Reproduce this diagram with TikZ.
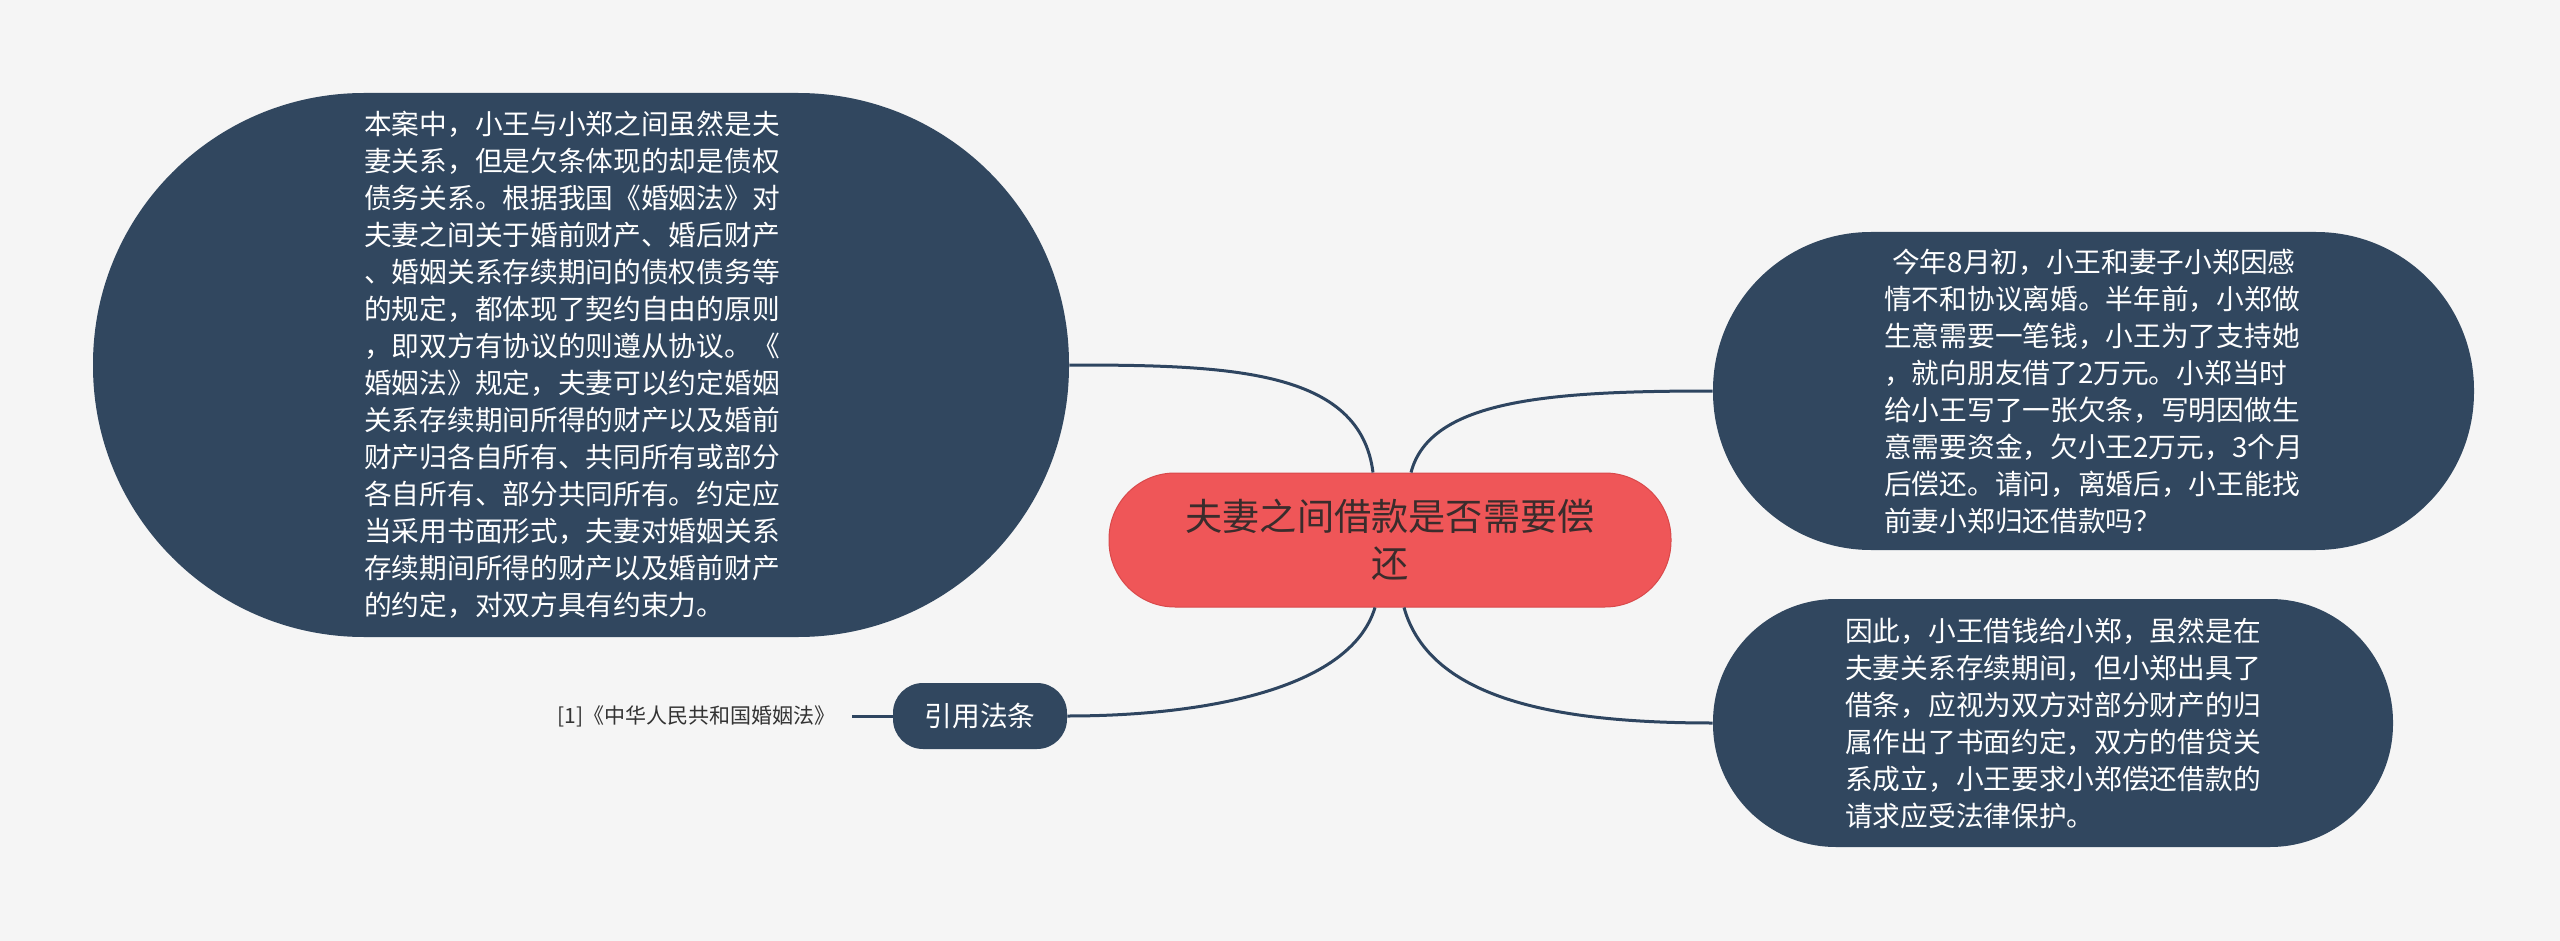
\documentclass[tikz,border=0pt]{standalone}
\usepackage{fontspec}
\setmainfont{Noto Sans CJK SC}
\usetikzlibrary{calc}
\definecolor{bg}{HTML}{F5F5F5}
\definecolor{navy}{HTML}{31475F}
\definecolor{linkc}{HTML}{2E4560}
\definecolor{redc}{HTML}{EF5658}
\definecolor{redb}{HTML}{D9494B}
\definecolor{ctext}{HTML}{3A2C2C}
\definecolor{gtext}{HTML}{333333}
\begin{document}
\begin{tikzpicture}[x=0.5pt,y=-0.5pt,
  topic/.style={fill=navy, text=white, inner sep=0pt, align=left,
    font=\fontsize{13.85pt}{18.5pt}\selectfont},
  centre/.style={fill=redc, draw=redb, line width=0.5pt, text=ctext, inner sep=0pt, align=center,
    font=\fontsize{18.6pt}{23.5pt}\selectfont},
  link/.style={draw=linkc, line width=1.5pt}]
\fill[bg] (0,0) rectangle (2560,941);
\useasboundingbox (0,0) rectangle (2560,941);

\node[centre, minimum width=281pt, minimum height=67pt, rounded corners=33pt] (c) at (1390,540)
  {夫妻之间借款是否需要偿\\还};

\node[topic, minimum width=488pt, minimum height=272pt, rounded corners=135.5pt] (L) at (581,365)
  {本案中，小王与小郑之间虽然是夫\rule{9pt}{0pt}\\
妻关系，但是欠条体现的却是债权\\
债务关系。根据我国《婚姻法》对\\
夫妻之间关于婚前财产、婚后财产\\
、婚姻关系存续期间的债权债务等\\
的规定，都体现了契约自由的原则\\
，即双方有协议的则遵从协议。《\\
婚姻法》规定，夫妻可以约定婚姻\\
关系存续期间所得的财产以及婚前\\
财产归各自所有、共同所有或部分\\
各自所有、部分共同所有。约定应\\
当采用书面形式，夫妻对婚姻关系\\
存续期间所得的财产以及婚前财产\\
的约定，对双方具有约束力。};

\node[topic, minimum width=380.5pt, minimum height=159pt, rounded corners=79pt] (TR) at (2093.5,391)
  {\hspace*{4pt}今年8月初，小王和妻子小郑因感\\
情不和协议离婚。半年前，小郑做\\
生意需要一笔钱，小王为了支持她\\
，就向朋友借了2万元。小郑当时\\
给小王写了一张欠条，写明因做生\\
意需要资金，欠小王2万元，3个月\\
后偿还。请问，离婚后，小王能找\\
前妻小郑归还借款吗？};

\node[topic, minimum width=340pt, minimum height=124pt, rounded corners=61.5pt] (BR) at (2053,723)
  {因此，小王借钱给小郑，虽然是在\\
夫妻关系存续期间，但小郑出具了\\
借条，应视为双方对部分财产的归\\
属作出了书面约定，双方的借贷关\\
系成立，小王要求小郑偿还借款的\\
请求应受法律保护。};

\node[topic, align=center, minimum width=87pt, minimum height=33pt, rounded corners=15pt] (law) at (980,716) {引用法条};

\node[anchor=east, inner xsep=8pt, inner ysep=2pt, text=gtext, font=\fontsize{10.5pt}{13pt}\selectfont] (cite) at (852,716)
  {[1]《中华人民共和国婚姻法》};

\coordinate (ctl) at ($(c.north)+(-17,0)$);
\coordinate (ctr) at ($(c.north)+(21,0)$);
\coordinate (cbl) at ($(c.south)+(-15,0)$);
\coordinate (cbr) at ($(c.south)+(14,0)$);

\draw[link] (ctl) .. controls +(-13,-103) and +(161,0) .. (L.east);
\draw[link] (ctr) .. controls +(19,-73) and +(-163,0) .. (TR.west);
\draw[link] (cbl) .. controls +(-25,83) and +(133,0) .. (law.east);
\draw[link] (cbr) .. controls +(26,93) and +(-153,0) .. (BR.west);
\draw[link] (cite.east) -- (law.west);
\end{tikzpicture}
\end{document}
